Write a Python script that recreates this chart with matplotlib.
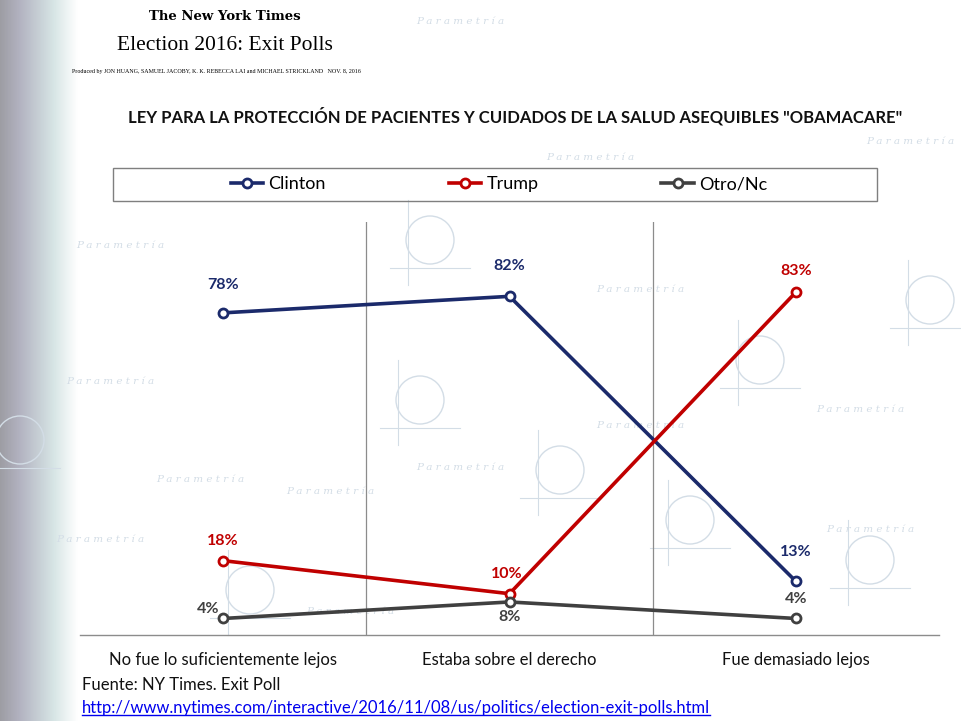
import matplotlib.pyplot as plt
import numpy as np
from matplotlib.patches import Rectangle
from matplotlib.lines import Line2D

plt.rcParams["font.family"] = ["Lato", "DejaVu Sans"]

NAVY = "#1b2a6b"
RED = "#c00000"
DARK = "#404040"
GRID = "#8c8c8c"
WATER = "#d3dde6"

CATEGORIES = ["No fue lo suficientemente lejos", "Estaba sobre el derecho",
              "Fue demasiado lejos"]
CLINTON = [78, 82, 13]
TRUMP = [18, 10, 83]
OTRO = [4, 8, 4]

# label offsets (points) per series, per category
CL_OFF = [(0, 20), (0, 22), (0, 21)]
TR_OFF = [(0, 14), (-2, 14), (0, 15)]
OT_OFF = [(-11, 7), (0, -11), (0, 14)]

fig = plt.figure(figsize=(9.61, 7.21), dpi=100)
fig.patch.set_facecolor("white")

# ---------------------------------------------------- background decoration --
bg = fig.add_axes([0, 0, 1, 1], zorder=0)
bg.set_xlim(0, 961)
bg.set_ylim(721, 0)
bg.axis("off")
grad = np.linspace(0, 1, 80)[None, :] * np.ones((50, 1))
bg.imshow(grad, cmap="bone", extent=(0, 78, 721, 0), aspect="auto",
          vmin=-0.2, vmax=1.0, alpha=0.45, zorder=0)
marks = [(110, 382), (330, 492), (460, 467), (590, 157), (640, 290),
         (860, 410), (100, 540), (350, 612), (120, 245), (910, 142),
         (460, 22), (870, 530), (640, 425), (200, 480)]
for mx, my in marks:
    bg.text(mx, my, "P a r a m e t r í a", fontsize=7.5, style="italic",
            color=WATER, ha="center", va="center", family="DejaVu Serif")
circles = [(420, 400), (560, 470), (760, 360), (870, 560), (250, 590),
           (690, 520), (930, 300), (20, 440), (1010, 230), (430, 240)]
for cx, cy in circles:
    bg.add_patch(plt.Circle((cx, cy), 24, fill=False, color=WATER, lw=1.0))
    bg.plot([cx - 40, cx + 40], [cy + 28, cy + 28], color=WATER, lw=0.8)
    bg.plot([cx - 22, cx - 22], [cy - 40, cy + 45], color=WATER, lw=0.8)

# ------------------------------------------------------------------ header --
fig.text(225 / 961, 1 - 17 / 721, "The New York Times", ha="center",
         va="center", fontsize=9.5, family="DejaVu Serif", fontweight="bold")
fig.text(225 / 961, 1 - 45 / 721, "Election 2016: Exit Polls", ha="center",
         va="center", fontsize=15.5, family="Liberation Serif")
fig.text(72 / 961, 1 - 71 / 721,
         "Produced by JON HUANG, SAMUEL JACOBY, K. K. REBECCA LAI and "
         "MICHAEL STRICKLAND   NOV. 8, 2016",
         ha="left", va="center", fontsize=4.3, family="Liberation Serif")

fig.text(515 / 961, 1 - 116 / 721,
         'LEY PARA LA PROTECCIÓN DE PACIENTES Y CUIDADOS DE LA SALUD '
         'ASEQUIBLES "OBAMACARE"',
         ha="center", va="center", fontsize=12, fontweight="bold",
         color="#111111")

# ------------------------------------------------------------------- chart --
ax = fig.add_axes([80 / 961, 1 - 635 / 721, 859 / 961, 413 / 721], zorder=2)
ax.set_facecolor("none")
x = np.arange(len(CATEGORIES))

series = [("Clinton", CLINTON, NAVY, CL_OFF),
          ("Trump", TRUMP, RED, TR_OFF),
          ("Otro/Nc", OTRO, DARK, OT_OFF)]
for name, vals, c, offs in series:
    ax.plot(x, vals, color=c, lw=2.6, marker="o", ms=6.5, mfc="white",
            mec=c, mew=2.0, label=name, zorder=3)
    for xi, v, (dx, dy) in zip(x, vals, offs):
        ax.annotate(f"{v}%", (xi, v), xytext=(dx, dy),
                    textcoords="offset points", ha="center", va="center",
                    fontsize=11.5, fontweight="bold", color=c, zorder=4)

ax.set_xlim(-0.5, len(CATEGORIES) - 0.5)
ax.set_ylim(0, 100)
for b in np.arange(0.5, len(CATEGORIES) - 0.5):
    ax.axvline(b, color=GRID, lw=0.9, zorder=1)
ax.set_yticks([])
ax.set_xticks(x)
ax.set_xticklabels(CATEGORIES, fontsize=12, color="#111111")
ax.tick_params(axis="x", length=0, pad=12)
for s in ["top", "right", "left"]:
    ax.spines[s].set_visible(False)
ax.spines["bottom"].set_color(GRID)
ax.spines["bottom"].set_linewidth(1.0)

# ------------------------------------------------------------------ legend --
bg.add_patch(Rectangle((113, 168), 764, 33, fill=True, facecolor="none",
                       edgecolor="#7f7f7f", lw=1.0, zorder=2))
handles, labels = ax.get_legend_handles_labels()
fig.legend(handles, labels, loc="center", ncol=3,
           bbox_to_anchor=(499 / 961, 1 - 184 / 721), frameon=False,
           fontsize=13, handlelength=1.8, handletextpad=0.3,
           columnspacing=6.8)

# ------------------------------------------------------------------ source --
fig.text(82 / 961, 1 - 685 / 721, "Fuente: NY Times. Exit Poll", ha="left",
         va="center", fontsize=12, color="#111111")
url = fig.text(82 / 961, 1 - 708 / 721,
               "http://www.nytimes.com/interactive/2016/11/08/us/politics/"
               "election-exit-polls.html",
               ha="left", va="center", fontsize=12, color="#0000ee")
fig.canvas.draw()
bb = url.get_window_extent()
fig.add_artist(Line2D([bb.x0 / 961, bb.x1 / 961],
                      [(bb.y0 + 1) / 721, (bb.y0 + 1) / 721],
                      color="#0000ee", lw=1.0))

fig.savefig("out.png", dpi=100)
